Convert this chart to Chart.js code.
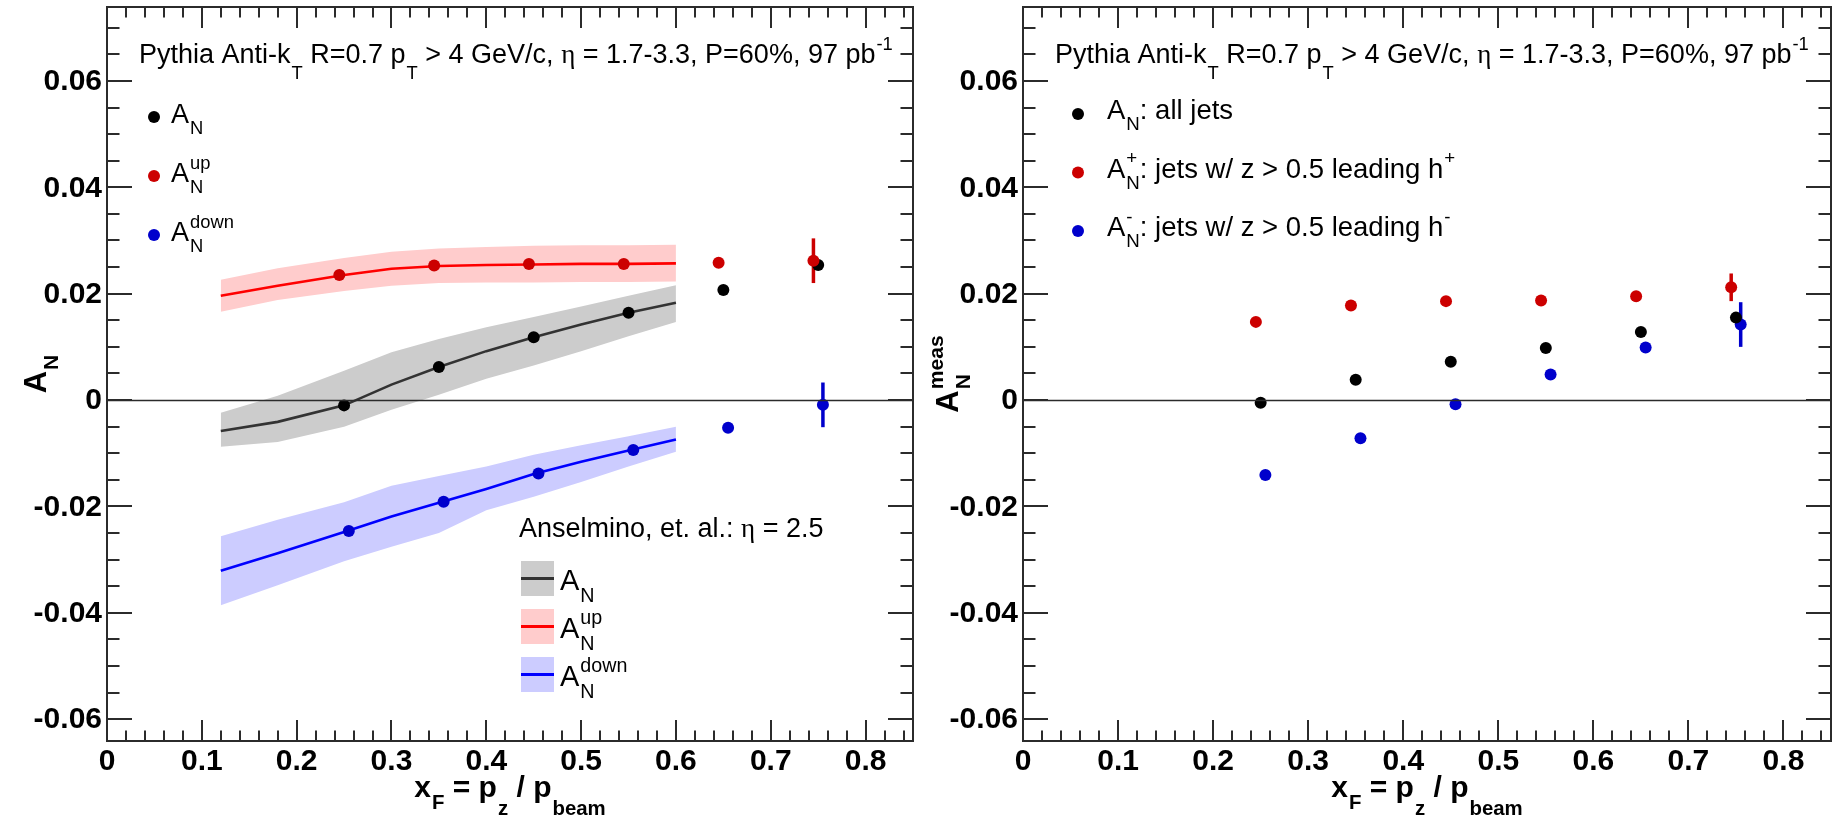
<!DOCTYPE html>
<html><head><meta charset="utf-8">
<script src="https://cdn.jsdelivr.net/npm/chart.js@4.4.1/dist/chart.umd.min.js"></script>
<style>
html,body{margin:0;padding:0;background:#fff;overflow:hidden;}
#wrap{position:relative;width:1837px;height:817px;background:#fff;}
canvas{position:absolute;top:0;}
</style></head><body>
<div id="wrap">
<canvas id="cLeft" width="919" height="817" style="left:0px"></canvas>
<canvas id="cRight" width="919" height="817" style="left:918px"></canvas>
</div>
<script>
// ---------------- data ----------------
const xRange = [0, 0.85];
const yRange = [-0.0641, 0.0739];
const xTickValues = [0, 0.1, 0.2, 0.3, 0.4, 0.5, 0.6, 0.7, 0.8];
const xTickLabels = ['0', '0.1', '0.2', '0.3', '0.4', '0.5', '0.6', '0.7', '0.8'];
const yTickValues = [-0.06, -0.04, -0.02, 0, 0.02, 0.04, 0.06];
const yTickLabels = ['-0.06', '-0.04', '-0.02', '0', '0.02', '0.04', '0.06'];

// theory curves (Anselmino et al., eta = 2.5)
const theoryX      = [0.12, 0.18, 0.25, 0.30, 0.35, 0.40, 0.45, 0.50, 0.55, 0.60];
const theoryAN     = [-0.0058, -0.0041, -0.0010, 0.0029, 0.0062, 0.0092, 0.0118, 0.0142, 0.0164, 0.0183];
const theoryANHi   = [-0.0024, 0.0008, 0.0055, 0.0090, 0.0115, 0.0137, 0.0156, 0.0176, 0.0196, 0.0216];
const theoryANLo   = [-0.0088, -0.0079, -0.0050, -0.0018, 0.0010, 0.0040, 0.0065, 0.0092, 0.0120, 0.0147];
const theoryUp     = [0.0196, 0.0215, 0.0235, 0.0247, 0.0252, 0.0254, 0.0255, 0.0256, 0.0256, 0.0257];
const theoryUpHi   = [0.0226, 0.0248, 0.0267, 0.0279, 0.0285, 0.0288, 0.0290, 0.0291, 0.0291, 0.0292];
const theoryUpLo   = [0.0166, 0.0188, 0.0205, 0.0215, 0.0220, 0.0221, 0.0221, 0.0222, 0.0222, 0.0223];
const theoryDown   = [-0.0321, -0.0288, -0.0248, -0.0219, -0.0193, -0.0167, -0.0139, -0.0116, -0.0095, -0.0074];
const theoryDownHi = [-0.0256, -0.0225, -0.0192, -0.0161, -0.0143, -0.0125, -0.0103, -0.0085, -0.0068, -0.0050];
const theoryDownLo = [-0.0386, -0.0348, -0.0303, -0.0276, -0.0250, -0.0207, -0.0182, -0.0154, -0.0125, -0.0097];

// left panel: Pythia A_N, A_N^up, A_N^down
const xBlack = [0.25, 0.35, 0.45, 0.55, 0.65, 0.75];
const xRed   = [0.245, 0.345, 0.445, 0.545, 0.645, 0.745];
const xBlue  = [0.255, 0.355, 0.455, 0.555, 0.655, 0.755];
const leftAN       = [-0.0010, 0.0062, 0.0118, 0.0164, 0.0207, 0.0254];
const leftANErr    = [0, 0, 0, 0, 0, 0];
const leftUp       = [0.0235, 0.0253, 0.0256, 0.0256, 0.0258, 0.0262];
const leftUpErr    = [0, 0, 0, 0, 0.0007, 0.0042];
const leftDown     = [-0.0246, -0.0191, -0.0138, -0.0094, -0.0052, -0.0009];
const leftDownErr  = [0, 0, 0, 0, 0.0007, 0.0042];

// right panel: measured A_N (all jets, h+ leading, h- leading)
const rightAll     = [-0.0005, 0.0038, 0.0072, 0.0098, 0.0128, 0.0155];
const rightAllErr  = [0, 0, 0, 0, 0, 0];
const rightPlus    = [0.0147, 0.0178, 0.0186, 0.0187, 0.0195, 0.0212];
const rightPlusErr = [0, 0, 0, 0, 0, 0.0026];
const rightMinus   = [-0.0141, -0.0072, -0.0008, 0.0048, 0.0099, 0.0142];
const rightMinusErr= [0, 0, 0, 0, 0, 0.0042];

// ---------------- styling ----------------
const SANS = '"Liberation Sans", Arial, Helvetica, sans-serif';
const SERIF = '"Liberation Serif", "Times New Roman", serif';
const C_BLACK = '#000000', C_RED = '#cc0000', C_BLUE = '#0000cc';
const L_BLACK = '#333333', L_RED = '#ff0000', L_BLUE = '#0000ff';
const B_BLACK = 'rgb(204,204,204)', B_RED = 'rgb(255,204,204)', B_BLUE = 'rgb(204,204,255)';
const AXIS = '#2b2b2b';
const MARKER_R = 6;

function pts(xs, ys) { return xs.map((x, i) => ({x: x, y: ys[i]})); }
function bandSets(xs, hi, lo, color) {
  return [
    {data: pts(xs, hi), showLine: true, borderWidth: 0, borderColor: 'rgba(0,0,0,0)', pointRadius: 0,
     backgroundColor: color, fill: '+1', order: 4, tension: 0},
    {data: pts(xs, lo), showLine: true, borderWidth: 0, borderColor: 'rgba(0,0,0,0)', pointRadius: 0,
     backgroundColor: color, fill: false, order: 4, tension: 0}
  ];
}
function lineSet(xs, ys, color) {
  return {data: pts(xs, ys), showLine: true, borderWidth: 2.6, borderColor: color, pointRadius: 0,
          fill: false, order: 3, tension: 0};
}
function pointSet(xs, ys, color) {
  return {data: pts(xs, ys), showLine: false, pointRadius: MARKER_R, pointStyle: 'circle',
          pointBackgroundColor: color, pointBorderColor: color, pointBorderWidth: 0, order: 1};
}
function errSets(xs, ys, es, color) {
  const out = [];
  xs.forEach((x, i) => {
    if (es[i] > 0) out.push({data: [{x: x, y: ys[i] - es[i]}, {x: x, y: ys[i] + es[i]}], showLine: true,
      borderWidth: 3.5, borderColor: color, pointRadius: 0, fill: false, order: 2, borderCapStyle: 'butt'});
  });
  return out;
}

// ---------- rich text (sub/superscripts) ----------
function fontStr(size, bold, serif) { return (bold ? 'bold ' : '') + size + 'px ' + (serif ? SERIF : SANS); }
function richWidth(ctx, segs, size, bold) {
  let w = 0;
  segs.forEach(s => {
    if (s.t !== undefined) { ctx.font = fontStr(size, bold, s.serif); w += ctx.measureText(s.t).width; }
    else {
      ctx.font = fontStr(size * 0.68, bold, false);
      const a = s.sub ? ctx.measureText(s.sub).width : 0;
      const b = s.sup ? ctx.measureText(s.sup).width : 0;
      w += Math.max(a, b) + 1;
    }
  });
  return w;
}
function drawRich(ctx, segs, x, y, size, bold, align) {
  let cx = x;
  if (align === 'center') cx = x - richWidth(ctx, segs, size, bold) / 2;
  ctx.textAlign = 'left'; ctx.textBaseline = 'alphabetic';
  segs.forEach(s => {
    if (s.t !== undefined) {
      ctx.font = fontStr(size, bold, s.serif);
      ctx.fillText(s.t, cx, y); cx += ctx.measureText(s.t).width;
    } else {
      const ss = size * 0.68;
      ctx.font = fontStr(ss, bold, false);
      let w = 0;
      if (s.sub) { ctx.fillText(s.sub, cx + 1, y + size * (s.low ? 0.6 : 0.4)); w = Math.max(w, ctx.measureText(s.sub).width); }
      if (s.sup) { ctx.fillText(s.sup, cx + 1, y - size * 0.48); w = Math.max(w, ctx.measureText(s.sup).width); }
      cx += w + 1;
    }
  });
}

const TITLE = [{t: 'Pythia Anti-k'}, {sub: 'T', low: true}, {t: ' R=0.7 p'}, {sub: 'T', low: true},
  {t: ' > 4 GeV/c, '}, {t: 'η', serif: true}, {t: ' = 1.7-3.3, P=60%, 97 pb'}, {sup: '-1'}];
const X_TITLE = [{t: 'x'}, {sub: 'F'}, {t: ' = p'}, {sub: 'z', low: true}, {t: ' / p'}, {sub: 'beam', low: true}];

// ---------- frame/axes plugin ----------
const frame = {
  id: 'rootFrame',
  beforeDatasetsDraw(chart, args, opts) {
    const {ctx} = chart;
    ctx.save();
    ctx.globalCompositeOperation = 'destination-over';
    ctx.fillStyle = '#fff';
    ctx.fillRect(0, 0, chart.width, chart.height);
    ctx.restore();
  },
  afterDatasetsDraw(chart, args, opts) {
    const {ctx, chartArea: a, scales: {x, y}} = chart;
    ctx.save();
    // zero line
    ctx.strokeStyle = AXIS; ctx.lineWidth = 1.6;
    const y0 = Math.round(y.getPixelForValue(0)) + 0.5;
    ctx.beginPath(); ctx.moveTo(a.left, y0); ctx.lineTo(a.right, y0); ctx.stroke();
    // ticks
    ctx.lineWidth = 2;
    ctx.beginPath();
    for (let k = -12; k <= 14; k++) {
      const v = k * 0.005; const py = Math.round(y.getPixelForValue(v));
      if (py < a.top + 1 || py > a.bottom - 1) continue;
      const len = (k % 4 === 0) ? 25 : 12.5;
      ctx.moveTo(a.left, py); ctx.lineTo(a.left + len, py);
      ctx.moveTo(a.right, py); ctx.lineTo(a.right - len, py);
    }
    for (let k = 1; k <= 42; k++) {
      const v = k * 0.02; const px = Math.round(x.getPixelForValue(v));
      if (px > a.right - 1) continue;
      const len = (k % 5 === 0) ? 21 : 10.5;
      ctx.moveTo(px, a.bottom); ctx.lineTo(px, a.bottom - len);
      ctx.moveTo(px, a.top); ctx.lineTo(px, a.top + len);
    }
    ctx.stroke();
    // frame
    ctx.lineWidth = 2;
    ctx.strokeRect(a.left, a.top, a.right - a.left, a.bottom - a.top);
    // tick labels
    ctx.fillStyle = '#000';
    ctx.font = fontStr(30, true);
    ctx.textAlign = 'right'; ctx.textBaseline = 'middle';
    yTickValues.forEach((v, i) => ctx.fillText(yTickLabels[i], a.left - 5, y.getPixelForValue(v) + 1));
    ctx.textAlign = 'center'; ctx.textBaseline = 'top';
    xTickValues.forEach((v, i) => ctx.fillText(xTickLabels[i], x.getPixelForValue(v), a.bottom + 6));
    // axis titles
    drawRich(ctx, X_TITLE, (a.left + a.right) / 2, 797, 30, true, 'center');
    ctx.save();
    ctx.translate(opts.yTitleX, (a.top + a.bottom) / 2);
    ctx.rotate(-Math.PI / 2);
    drawRich(ctx, opts.yTitle, 0, 0, 31, true, 'center');
    ctx.restore();
    // header
    drawRich(ctx, TITLE, a.left + 32, 63, 27, false, 'left');
    // legends
    opts.drawLegend(ctx, a);
    ctx.restore();
  }
};

function marker(ctx, x, y, color) {
  ctx.fillStyle = color; ctx.beginPath(); ctx.arc(x, y, MARKER_R, 0, Math.PI * 2); ctx.fill();
}

function leftLegend(ctx, a) {
  const L = a.left, T = a.top;
  const items = [
    [C_BLACK, [{t: 'A'}, {sub: 'N'}]],
    [C_RED, [{t: 'A'}, {sub: 'N', sup: 'up'}]],
    [C_BLUE, [{t: 'A'}, {sub: 'N', sup: 'down'}]]
  ];
  items.forEach((it, i) => {
    marker(ctx, L + 47, T + 110 + i * 59, it[0]);
    ctx.fillStyle = '#000';
    drawRich(ctx, it[1], L + 64, T + 116 + i * 59, 27, false, 'left');
  });
  ctx.fillStyle = '#000';
  drawRich(ctx, [{t: 'Anselmino, et. al.: '}, {t: 'η', serif: true}, {t: ' = 2.5'}], L + 412, 537, 27, false, 'left');
  const th = [
    [B_BLACK, L_BLACK, [{t: 'A'}, {sub: 'N'}]],
    [B_RED, L_RED, [{t: 'A'}, {sub: 'N', sup: 'up'}]],
    [B_BLUE, L_BLUE, [{t: 'A'}, {sub: 'N', sup: 'down'}]]
  ];
  th.forEach((it, i) => {
    const yy = 561 + i * 48;
    ctx.fillStyle = it[0]; ctx.fillRect(L + 414, yy, 33, 35);
    ctx.strokeStyle = it[1]; ctx.lineWidth = 3;
    ctx.beginPath(); ctx.moveTo(L + 414, yy + 17.5); ctx.lineTo(L + 447, yy + 17.5); ctx.stroke();
    ctx.fillStyle = '#000';
    drawRich(ctx, it[2], L + 453, yy + 29, 29, false, 'left');
  });
}
function rightLegend(ctx, a) {
  const L = a.left, T = a.top;
  const items = [
    [C_BLACK, [{t: 'A'}, {sub: 'N'}, {t: ': all jets'}]],
    [C_RED, [{t: 'A'}, {sub: 'N', sup: '+'}, {t: ': jets w/ z > 0.5 leading h'}, {sup: '+'}]],
    [C_BLUE, [{t: 'A'}, {sub: 'N', sup: '-'}, {t: ': jets w/ z > 0.5 leading h'}, {sup: '-'}]]
  ];
  items.forEach((it, i) => {
    marker(ctx, L + 55, T + 107 + i * 58.5, it[0]);
    ctx.fillStyle = '#000';
    drawRich(ctx, it[1], L + 84, T + 112 + i * 58.5, 27.5, false, 'left');
  });
}

function makeChart(id, datasets, padL, padR, yTitle, yTitleX, legendFn) {
  return new Chart(document.getElementById(id), {
    type: 'scatter',
    data: {datasets: datasets},
    options: {
      responsive: false, animation: false, devicePixelRatio: 1, events: [],
      layout: {padding: {left: padL, right: padR, top: 7, bottom: 76}},
      scales: {
        x: {type: 'linear', min: xRange[0], max: xRange[1], display: false},
        y: {type: 'linear', min: yRange[0], max: yRange[1], display: false}
      },
      plugins: {
        legend: {display: false}, tooltip: {enabled: false},
        rootFrame: {yTitle: yTitle, yTitleX: yTitleX, drawLegend: legendFn}
      }
    },
    plugins: [frame]
  });
}

const leftSets = [].concat(
  bandSets(theoryX, theoryANHi, theoryANLo, B_BLACK),
  bandSets(theoryX, theoryUpHi, theoryUpLo, B_RED),
  bandSets(theoryX, theoryDownHi, theoryDownLo, B_BLUE),
  [lineSet(theoryX, theoryAN, L_BLACK), lineSet(theoryX, theoryUp, L_RED), lineSet(theoryX, theoryDown, L_BLUE)],
  errSets(xRed, leftUp, leftUpErr, C_RED),
  errSets(xBlue, leftDown, leftDownErr, C_BLUE),
  errSets(xBlack, leftAN, leftANErr, C_BLACK),
  [pointSet(xRed, leftUp, C_RED), pointSet(xBlue, leftDown, C_BLUE), pointSet(xBlack, leftAN, C_BLACK)]
);
const rightSets = [].concat(
  errSets(xRed, rightPlus, rightPlusErr, C_RED),
  errSets(xBlue, rightMinus, rightMinusErr, C_BLUE),
  errSets(xBlack, rightAll, rightAllErr, C_BLACK),
  [pointSet(xRed, rightPlus, C_RED), pointSet(xBlack, rightAll, C_BLACK), pointSet(xBlue, rightMinus, C_BLUE)]
);

makeChart('cLeft', leftSets, 107, 1, [{t: 'A'}, {sub: 'N'}], 46, leftLegend);
makeChart('cRight', rightSets, 105, 3, [{t: 'A'}, {sub: 'N', sup: 'meas'}], 40, rightLegend);
</script>
</body></html>
